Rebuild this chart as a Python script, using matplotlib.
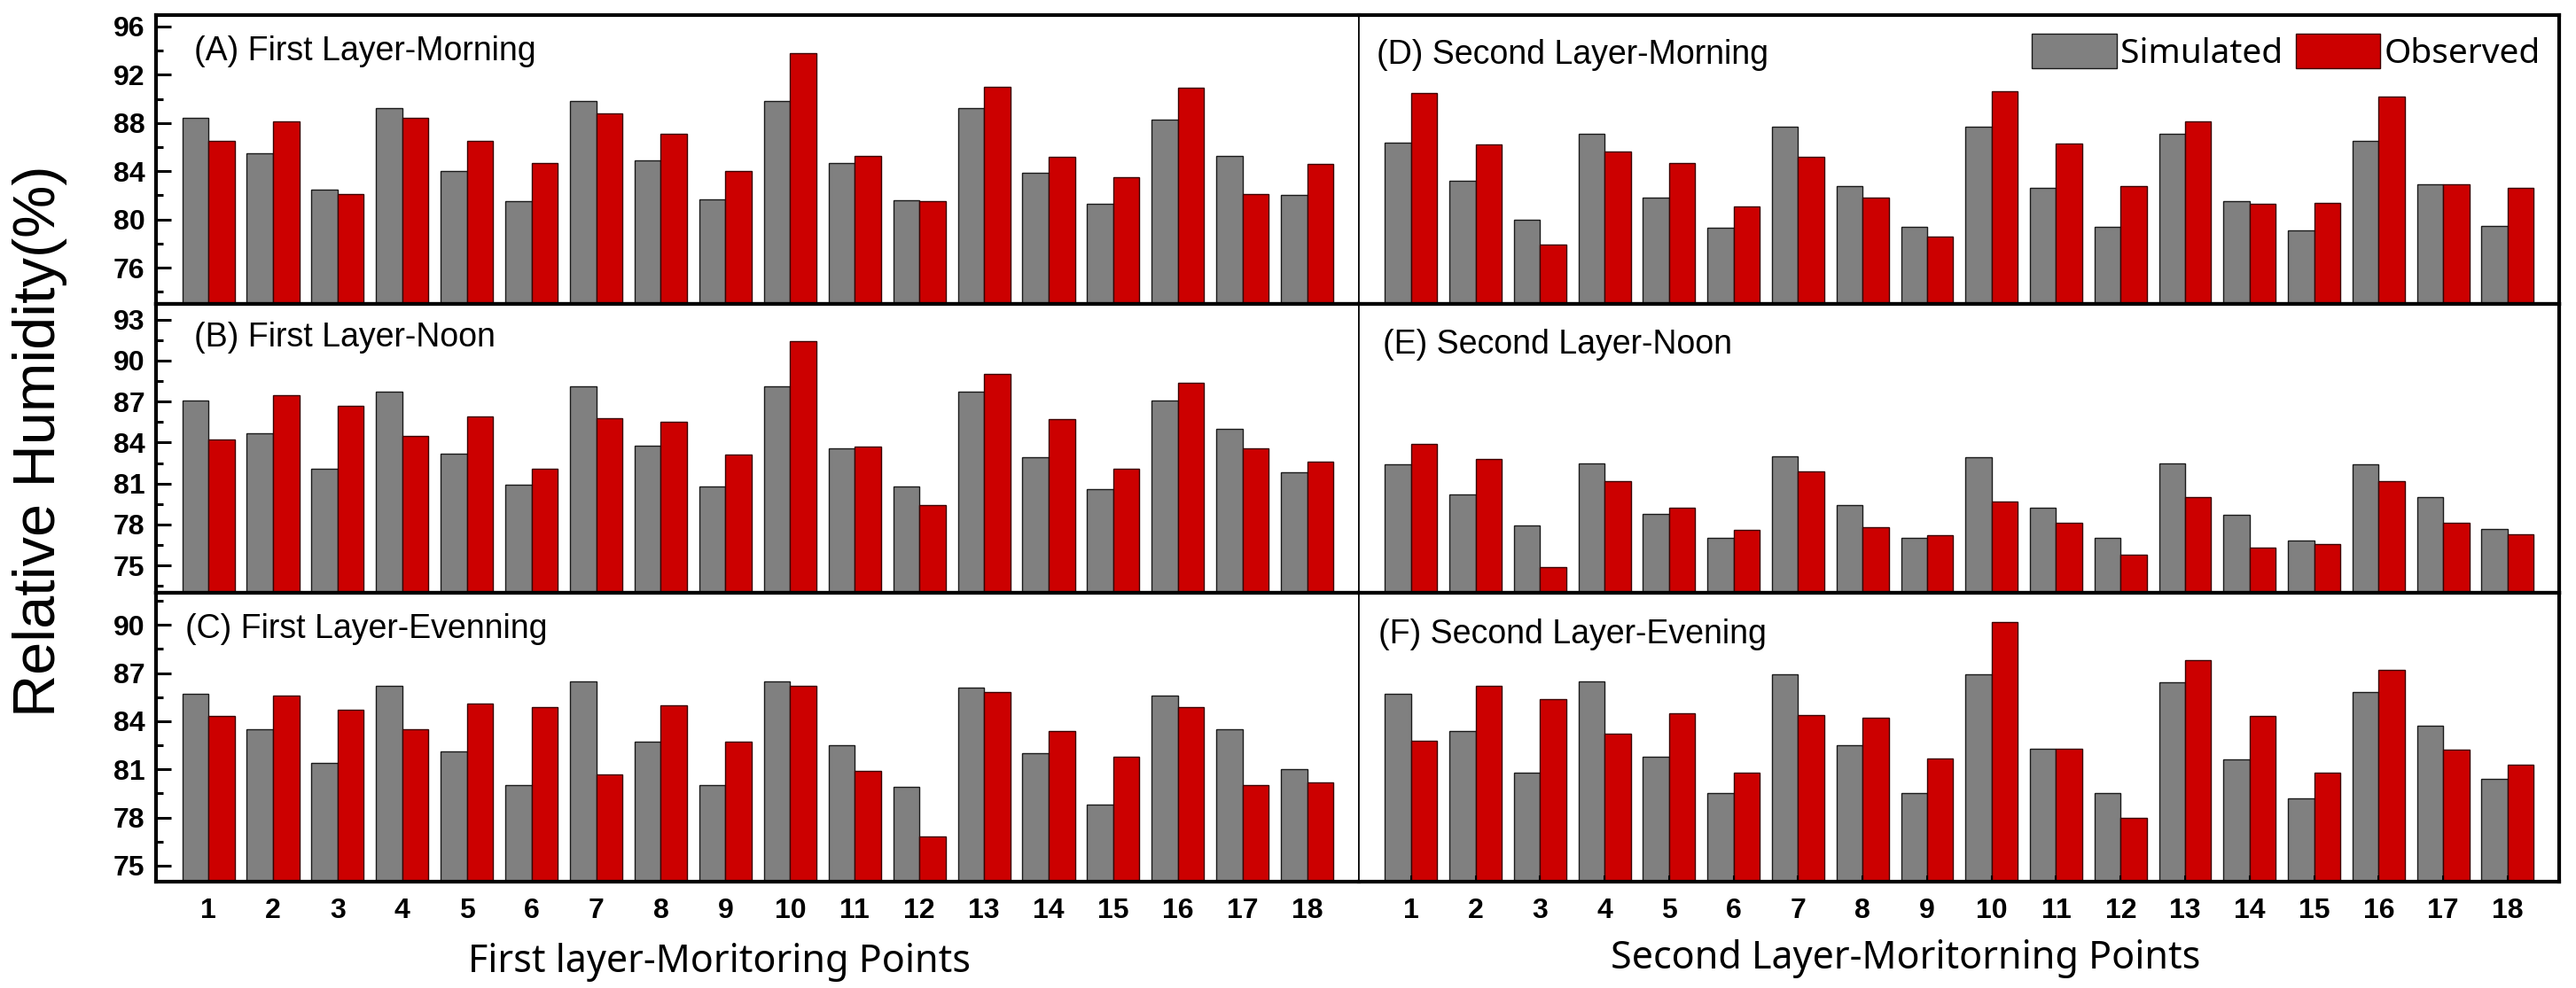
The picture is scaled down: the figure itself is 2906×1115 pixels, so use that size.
import matplotlib
matplotlib.use("Agg")
import matplotlib.pyplot as plt
from matplotlib.ticker import MultipleLocator, FixedLocator

# ---------------------------------------------------------------------------
# Data
# ---------------------------------------------------------------------------
points = list(range(1, 19))

# first layer
a_sim = [88.4, 85.5, 82.5, 89.2, 84.0, 81.5, 89.8, 84.9, 81.7, 89.8, 84.7, 81.6, 89.2, 83.9, 81.3, 88.3, 85.3, 82.0]
a_obs = [86.5, 88.1, 82.1, 88.4, 86.5, 84.7, 88.8, 87.1, 84.0, 93.8, 85.3, 81.5, 91.0, 85.2, 83.5, 90.9, 82.1, 84.6]
b_sim = [87.1, 84.7, 82.1, 87.7, 83.2, 80.9, 88.1, 83.8, 80.8, 88.1, 83.6, 80.8, 87.7, 82.9, 80.6, 87.1, 85.0, 81.8]
b_obs = [84.2, 87.5, 86.7, 84.5, 85.9, 82.1, 85.8, 85.5, 83.1, 91.4, 83.7, 79.4, 89.0, 85.7, 82.1, 88.4, 83.6, 82.6]
c_sim = [85.7, 83.5, 81.4, 86.2, 82.1, 80.0, 86.5, 82.7, 80.0, 86.5, 82.5, 79.9, 86.1, 82.0, 78.8, 85.6, 83.5, 81.0]
c_obs = [84.3, 85.6, 84.7, 83.5, 85.1, 84.9, 80.7, 85.0, 82.7, 86.2, 80.9, 76.8, 85.8, 83.4, 81.8, 84.9, 80.0, 80.2]
# second layer
d_sim = [86.4, 83.2, 80.0, 87.1, 81.8, 79.3, 87.7, 82.8, 79.4, 87.7, 82.6, 79.4, 87.1, 81.5, 79.1, 86.5, 82.9, 79.5]
d_obs = [90.5, 86.2, 77.9, 85.6, 84.7, 81.1, 85.2, 81.8, 78.6, 90.6, 86.3, 82.8, 88.1, 81.3, 81.4, 90.2, 82.9, 82.6]
e_sim = [82.4, 80.2, 77.9, 82.5, 78.8, 77.0, 83.0, 79.4, 77.0, 82.9, 79.2, 77.0, 82.5, 78.7, 76.8, 82.4, 80.0, 77.7]
e_obs = [83.9, 82.8, 74.9, 81.2, 79.2, 77.6, 81.9, 77.8, 77.2, 79.7, 78.1, 75.8, 80.0, 76.3, 76.6, 81.2, 78.1, 77.3]
f_sim = [85.7, 83.4, 80.8, 86.5, 81.8, 79.5, 86.9, 82.5, 79.5, 86.9, 82.3, 79.5, 86.4, 81.6, 79.2, 85.8, 83.7, 80.4]
f_obs = [82.8, 86.2, 85.4, 83.2, 84.5, 80.8, 84.4, 84.2, 81.7, 90.2, 82.3, 78.0, 87.8, 84.3, 80.8, 87.2, 82.2, 81.3]

titles = {
    "A": "(A) First Layer-Morning",
    "B": "(B) First Layer-Noon",
    "C": "(C) First Layer-Evenning",
    "D": "(D) Second Layer-Morning",
    "E": "(E) Second Layer-Noon",
    "F": "(F) Second Layer-Evening",
}

# ---------------------------------------------------------------------------
# Style
# ---------------------------------------------------------------------------
SIM_COLOUR = "#808080"
OBS_COLOUR = "#cc0000"
NARROW = ["Liberation Sans Narrow", "Liberation Sans", "DejaVu Sans"]
UI = ["Noto Sans", "DejaVu Sans"]

W, H = 2906, 1115
fig = plt.figure(figsize=(W / 100, H / 100), dpi=100)

x_left, x_mid, x_right = 176 / W, 1533 / W, 2887 / W
row_top = [17, 343, 669]
row_h = 326


def make_ax(col, row):
    x0 = x_left if col == 0 else x_mid
    x1 = x_mid if col == 0 else x_right
    bottom = 1 - (row_top[row] + row_h) / H
    return fig.add_axes([x0, bottom, x1 - x0, row_h / H])


rows = [
    # (ylim, major step, first major, keys, left pair, right pair)
    ((73, 96.95), 4, 76, ("A", "D"), (a_sim, a_obs), (d_sim, d_obs)),
    ((73, 94.15), 3, 75, ("B", "E"), (b_sim, b_obs), (e_sim, e_obs)),
    ((74, 92.0), 3, 75, ("C", "F"), (c_sim, c_obs), (f_sim, f_obs)),
]

width = 0.405
title_pos = {"A": (0.032, 0.844), "B": (0.032, 0.853), "C": (0.024, 0.844),
             "D": (0.015, 0.83), "E": (0.02, 0.828), "F": (0.016, 0.826)}

legend_handles = None
for r, (ylim, step, first, keys, left_data, right_data) in enumerate(rows):
    for c, (key, (sim, obs)) in enumerate(zip(keys, (left_data, right_data))):
        ax = make_ax(c, r)
        xs = [p - width / 2 for p in points]
        xo = [p + width / 2 for p in points]
        b1 = ax.bar(xs, sim, width, color=SIM_COLOUR, edgecolor="#1a1a1a", lw=1.0)
        b2 = ax.bar(xo, obs, width, color=OBS_COLOUR, edgecolor="#3a0000", lw=1.0)
        if legend_handles is None:
            legend_handles = (b1, b2)
        ax.set_xlim(0.19, 18.8)
        ax.set_ylim(*ylim)

        for side in ("top", "bottom"):
            ax.spines[side].set_linewidth(3.0)
        if c == 0:
            ax.spines["left"].set_linewidth(3.0)
            ax.spines["right"].set_linewidth(1.2)
        else:
            ax.spines["left"].set_linewidth(1.2)
            ax.spines["right"].set_linewidth(3.0)

        if c == 0:
            majors = [v for v in range(first, int(ylim[1]) + 1, step)]
            ax.yaxis.set_major_locator(FixedLocator(majors))
            ax.yaxis.set_minor_locator(MultipleLocator(step / 2))
            ax.tick_params(axis="y", which="major", direction="in", length=12,
                           width=2.2, pad=9, labelsize=23)
            ax.tick_params(axis="y", which="minor", direction="in", length=6,
                           width=2.2)
            for lab in ax.get_yticklabels():
                lab.set_family(NARROW)
                lab.set_fontweight("bold")
        else:
            ax.tick_params(axis="y", which="both", left=False, labelleft=False)

        if r == 2:
            ax.set_xticks(points)
            ax.set_xticklabels([str(p) for p in points], family=NARROW,
                               fontweight="bold", fontsize=23)
            ax.tick_params(axis="x", direction="in", pad=13,
                           length=5 if c == 1 else 0, width=1.5)
        else:
            ax.tick_params(axis="x", bottom=False, labelbottom=False)

        tx, ty = title_pos[key]
        ax.text(tx, ty, titles[key], transform=ax.transAxes, family=NARROW,
                fontsize=27, va="baseline", ha="left")

        if key == "D":
            ax.legend(legend_handles, ["Simulated", "Observed"], loc="upper right",
                      bbox_to_anchor=(1.0, 1.0), ncol=2, frameon=False,
                      prop={"family": UI, "size": 28}, handlelength=2.45,
                      handleheight=1.15, handletextpad=0.1, columnspacing=0.4,
                      borderaxespad=0.25, borderpad=0.3)

fig.text(812 / W, 1 - 1097 / H, "First layer-Moritoring Points", family=UI,
         fontsize=31, ha="center", va="baseline")
fig.text(2150 / W, 1 - 1093 / H, "Second Layer-Moritorning Points", family=UI,
         fontsize=31, ha="center", va="baseline")
fig.text(45 / W, 1 - 498 / H, "Relative Humidity(%)",
         family=["Liberation Sans", "DejaVu Sans"],
         fontsize=48, rotation=90, ha="center", va="center")

fig.savefig("out.png", dpi=100)
